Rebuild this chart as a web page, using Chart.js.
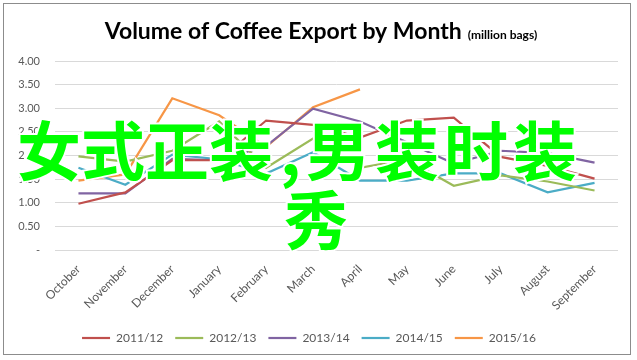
<!DOCTYPE html>
<html>
<head>
<meta charset="utf-8">
<script src="https://cdn.jsdelivr.net/npm/chart.js@4.4.1/dist/chart.umd.min.js"></script>
<style>
  html, body { margin: 0; padding: 0; background: #fff; }
  #wrap { position: relative; width: 637px; height: 360px; }
  .overlay {
    position: absolute;
    font-family: "Noto Sans CJK SC", sans-serif;
    font-weight: 700;
    font-size: 64px;
    line-height: 64px;
    color: #00ff00;
    white-space: nowrap;
    -webkit-text-stroke: 4px #fff;
    paint-order: stroke fill;
  }
</style>
</head>
<body>
<div id="wrap">
  <canvas id="coffeeChart" width="637" height="360"></canvas>
  <div class="overlay" style="left:17px; top:115px;">女式正装</div>
  <div class="overlay" style="left:280px; top:115px;">,</div>
  <div class="overlay" style="left:306px; top:115px; letter-spacing:5px;">男装时装</div>
  <div class="overlay" style="left:284px; top:184px;">秀</div>
</div>
<script>
const months = ["October", "November", "December", "January", "February", "March",
  "April", "May", "June", "July", "August", "September"];
const seasons = ["2011/12", "2012/13", "2013/14", "2014/15", "2015/16"];
const colors = ["#c0504d", "#9bbb59", "#8064a2", "#4bacc6", "#f79646"];

const vol_2011 = [0.98, 1.22, 1.90, 1.90, 2.74, 2.65, 2.38, 2.74, 2.80, 1.97, 1.78, 1.51];
const vol_2012 = [1.98, 1.87, 2.10, 2.72, 1.74, 2.36, 1.74, 1.92, 1.36, 1.58, 1.45, 1.26];
const vol_2013 = [1.20, 1.20, 1.93, 1.90, 2.20, 2.99, 2.72, 2.28, 1.83, 2.10, 2.05, 1.85];
const vol_2014 = [1.74, 1.38, 2.02, 1.92, 1.62, 2.07, 1.47, 1.47, 1.62, 1.62, 1.22, 1.42];
const vol_2015 = [1.47, 1.60, 3.21, 2.85, 2.18, 3.02, 3.40, null, null, null, null, null];

const allSeries = [vol_2011, vol_2012, vol_2013, vol_2014, vol_2015];

const tickColor = "#595959";
const baseFont = "Lato, 'Liberation Sans', sans-serif";

// title with small unit text, plus the grey frame around the chart
const frameAndTitle = {
  id: "frameAndTitle",
  afterDraw(chart) {
    const ctx = chart.ctx;
    ctx.save();
    ctx.strokeStyle = "#8c8c8c";
    ctx.lineWidth = 1;
    ctx.strokeRect(3.5, 3.5, 627, 351);

    const main = "Volume of Coffee Export by Month";
    const unit = "(million bags)";
    ctx.fillStyle = "#000";
    ctx.textBaseline = "alphabetic";
    ctx.font = "bold 23px " + baseFont;
    const w1 = ctx.measureText(main).width;
    ctx.font = "bold 12px " + baseFont;
    const w2 = ctx.measureText(unit).width;
    const startX = 321 - (w1 + 6 + w2) / 2;
    ctx.font = "bold 23px " + baseFont;
    ctx.fillText(main, startX, 39);
    ctx.font = "bold 12px " + baseFont;
    ctx.fillText(unit, startX + w1 + 6, 39);
    ctx.restore();
  }
};

const coffeeData = {
  labels: months,
  datasets: seasons.map((s, i) => ({
    label: s,
    data: allSeries[i],
    borderColor: colors[i],
    backgroundColor: colors[i],
    borderWidth: 2.2,
    pointRadius: 0,
    tension: 0,
    spanGaps: false,
  })),
};

const coffeeConfig = {
  type: "line",
  data: coffeeData,
  options: {
    responsive: false,
    animation: false,
    layout: {
      padding: { top: 61, left: 0, right: 19, bottom: 6 },
    },
    scales: {
      x: {
        offset: true,
        grid: { display: false },
        border: { display: false },
        ticks: {
          color: tickColor,
          font: { family: baseFont, size: 12 },
          minRotation: 45,
          maxRotation: 45,
          padding: 4,
          autoSkip: false,
        },
        afterFit(scale) {
          scale.height = 70;
        },
      },
      y: {
        min: 0,
        max: 4,
        grid: { color: "#d9d9d9", drawTicks: false },
        border: { display: false },
        ticks: {
          stepSize: 0.5,
          color: tickColor,
          font: { family: baseFont, size: 11 },
          padding: 15,
          callback: (v) => (v === 0 ? "-" : v.toFixed(2)),
        },
        afterFit(scale) {
          scale.width = 55;
        },
      },
    },
    plugins: {
      title: { display: false },
      tooltip: { enabled: false },
      legend: {
        position: "bottom",
        labels: {
          usePointStyle: true,
          pointStyle: "line",
          pointStyleWidth: 28,
          color: tickColor,
          font: { family: baseFont, size: 12 },
          padding: 12,
        },
      },
    },
  },
  plugins: [frameAndTitle],
};

new Chart(document.getElementById("coffeeChart"), coffeeConfig);
</script>
</body>
</html>
